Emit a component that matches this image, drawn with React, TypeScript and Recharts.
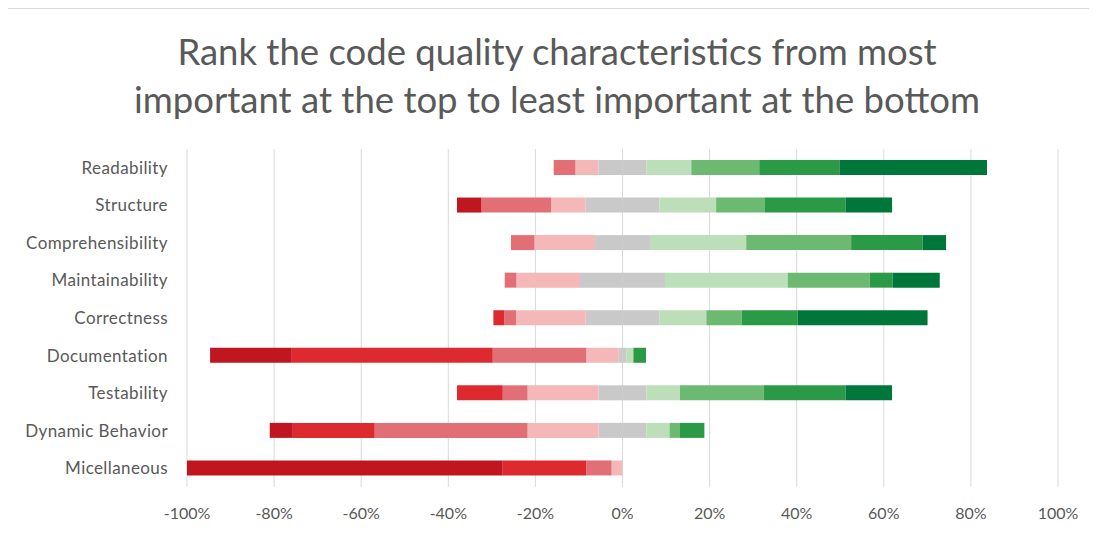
import { BarChart, Bar, XAxis, YAxis, CartesianGrid } from 'recharts'

const characteristics = [
  'Readability',
  'Structure',
  'Comprehensibility',
  'Maintainability',
  'Correctness',
  'Documentation',
  'Testability',
  'Dynamic Behavior',
  'Micellaneous',
]

// share of respondents (%) giving each rank, 1 = most important
const rank1 = [33.9, 10.7, 5.4, 10.8, 29.8, 0, 10.7, 0, 0]
const rank2 = [18.4, 18.6, 16.4, 5.3, 12.9, 2.9, 18.8, 5.6, 0]
const rank3 = [15.6, 11.1, 24.1, 18.8, 8.1, 0, 19.2, 2.4, 0]
const rank4 = [10.3, 13.0, 22.1, 28.2, 10.8, 1.65, 7.7, 5.3, 0]
const rank5 = [11.0, 17.0, 12.6, 19.5, 16.9, 1.7, 11.0, 11.0, 0]
const rank6 = [5.3, 7.9, 13.9, 14.6, 16.0, 7.45, 16.3, 16.3, 2.5]
const rank7 = [5.0, 16.0, 5.4, 2.7, 2.7, 21.5, 5.7, 35.1, 5.8]
const rank8 = [0, 0, 0, 0, 2.5, 46.3, 10.5, 18.8, 19.2]
const rank9 = [0, 5.6, 0, 0, 0, 18.6, 0, 5.3, 72.5]

const xTicks = [-100, -80, -60, -40, -20, 0, 20, 40, 60, 80, 100]

const colors = {
  r1: '#00773a',
  r2: '#2b9a47',
  r3: '#6cba72',
  r4: '#bcdfba',
  r5: '#c9c9c9',
  r6: '#f4b8b9',
  r7: '#e26f75',
  r8: '#dc2a2f',
  r9: '#c0161f',
}

// neutral rank is split across zero, less important ranks go left
const data = characteristics.map((name, i) => ({
  name,
  n5: -rank5[i] / 2,
  n6: -rank6[i],
  n7: -rank7[i],
  n8: -rank8[i],
  n9: -rank9[i],
  p5: rank5[i] / 2,
  p4: rank4[i],
  p3: rank3[i],
  p2: rank2[i],
  p1: rank1[i],
}))

const series: [string, string][] = [
  ['n5', colors.r5],
  ['n6', colors.r6],
  ['n7', colors.r7],
  ['n8', colors.r8],
  ['n9', colors.r9],
  ['p5', colors.r5],
  ['p4', colors.r4],
  ['p3', colors.r3],
  ['p2', colors.r2],
  ['p1', colors.r1],
]

const font = 'Lato, "Open Sans", sans-serif'
const textColor = '#595959'

export default function App() {
  return (
    <div style={{ position: 'relative', width: 1097, height: 534, margin: -8, background: '#fff', fontFamily: font }}>
      <div style={{ position: 'absolute', left: 4, top: 8, right: 0, bottom: 0, borderTop: '1px solid #d9d9d9', borderLeft: '1px solid #d9d9d9' }} />
      <div
        style={{
          position: 'absolute',
          left: 0,
          top: 27,
          width: 1114,
          textAlign: 'center',
          fontSize: 36.5,
          lineHeight: '48px',
          color: textColor,
        }}
      >
        Rank the code quality characteristics from most
        <br />
        important at the top to least important at the bottom
      </div>
      <div style={{ position: 'absolute', left: 0, top: 0 }}>
        <BarChart
          width={1097}
          height={534}
          data={data}
          layout="vertical"
          stackOffset="sign"
          barSize={15}
          margin={{ top: 149, right: 39, bottom: 17, left: 0 }}
        >
          <CartesianGrid horizontal={false} stroke="#d9d9d9" />
          <XAxis
            type="number"
            domain={[-100, 100]}
            ticks={xTicks}
            tickFormatter={(v: number) => `${v}%`}
            axisLine={false}
            tickLine={false}
            tickMargin={15}
            height={30}
            tick={{ fill: textColor, fontSize: 16, fontFamily: font }}
          />
          <YAxis
            type="category"
            dataKey="name"
            width={187}
            axisLine={false}
            tickLine={false}
            tickMargin={13}
            tick={{ fill: textColor, fontSize: 17, fontFamily: font, letterSpacing: 0.4 }}
          />
          {series.map(([key, color]) => (
            <Bar key={key} dataKey={key} stackId="rank" fill={color} isAnimationActive={false} />
          ))}
        </BarChart>
      </div>
    </div>
  )
}
